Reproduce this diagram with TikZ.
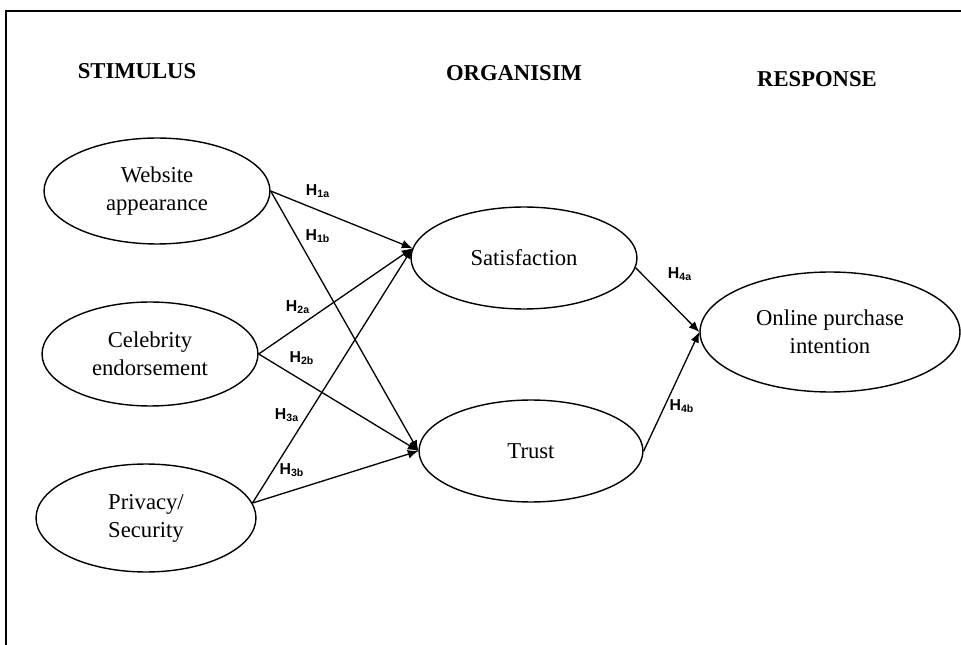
\documentclass[tikz,border=0pt]{standalone}
\usepackage{fontspec}
\setmainfont{Liberation Serif}
\newfontfamily\labfont{Liberation Sans}
\usetikzlibrary{shapes.geometric,arrows.meta}
\tikzset{construct/.style={ellipse,draw=black,line width=0.8pt,inner sep=0pt,align=center,font=\fontsize{12.9}{16}\selectfont},
 head/.style={font=\fontsize{12.9}{16}\selectfont\bfseries,inner sep=0pt},
 hyp/.style={font=\labfont\bfseries\fontsize{9}{11}\selectfont,inner sep=1pt},
 link/.style={draw=black,line width=0.75pt,-{Latex[length=6pt,width=5pt]}}}
\newcommand{\hy}[1]{H\textsubscript{#1}}

\begin{document}
\begin{tikzpicture}[x=0.02cm,y=-0.02cm]
\useasboundingbox (0,0) rectangle (961,645);
\draw[line width=0.9pt] (6,645) -- (6,11) -- (961,11);
\node[head] (stim) at (137,71) {STIMULUS};
\node[head] (org) at (514,73) {ORGANISIM};
\node[head] (resp) at (817,79) {RESPONSE};
\node[construct,minimum width=4.52cm,minimum height=2.12cm] (web) at (157,191) {Website\\appearance};
\node[construct,minimum width=4.32cm,minimum height=2.08cm] (cel) at (150,354) {Celebrity\\endorsement};
\node[construct,minimum width=4.4cm,minimum height=2.16cm] (priv) at (146,518) {Privacy/\\Security};
\node[construct,minimum width=4.52cm,minimum height=2.04cm] (sat) at (524,258) {Satisfaction};
\node[construct,minimum width=4.48cm,minimum height=2.04cm] (trust) at (531,451) {Trust};
\node[construct,minimum width=5.2cm,minimum height=2.4cm] (online) at (830,332) {Online purchase\\intention};
\draw[link] (web.east) -- (sat.175);
\draw[link] (web.east) -- (trust.west);
\draw[link] (cel.east) -- (sat.175);
\draw[link] (cel.east) -- (trust.west);
\draw[link] (priv.8) -- (sat.175);
\draw[link] (priv.8) -- (trust.west);
\draw[link] (sat.-5) -- (online.west);
\draw[link] (trust.east) -- (online.west);
\node[hyp] (h1a) at (318,191) {\hy{1a}};
\node[hyp] (h1b) at (318,236) {\hy{1b}};
\node[hyp] (h2a) at (298,307) {\hy{2a}};
\node[hyp] (h2b) at (302,358) {\hy{2b}};
\node[hyp] (h3a) at (287,415) {\hy{3a}};
\node[hyp] (h3b) at (292,470) {\hy{3b}};
\node[hyp] (h4a) at (680,274) {\hy{4a}};
\node[hyp] (h4b) at (682,406) {\hy{4b}};
\end{tikzpicture}
\end{document}
